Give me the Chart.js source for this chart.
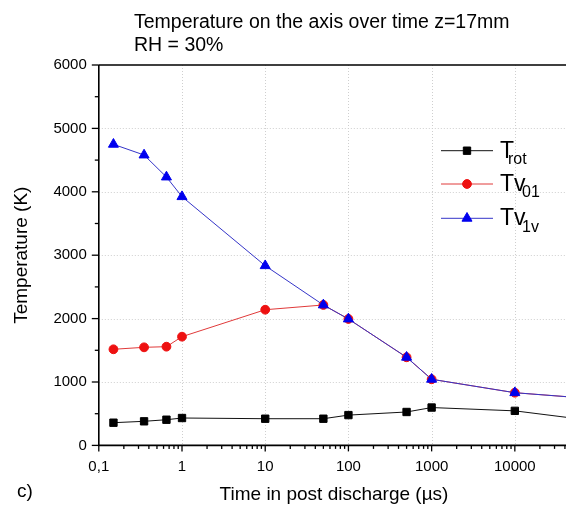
<!DOCTYPE html>
<html><head><meta charset="utf-8">
<script src="https://cdn.jsdelivr.net/npm/chart.js@4.4.1/dist/chart.umd.min.js"></script>
<style>html,body{margin:0;padding:0;background:#fff;}#wrap{width:566px;height:506px;position:relative;}</style>
</head><body><div id="wrap"><canvas id="c" width="566" height="506"></canvas></div>
<script>
// ---- data ----
const timesUs = [0.15, 0.35, 0.65, 1, 10, 50, 100, 500, 1000, 10000, 100000];
const tRot = [358, 380, 405, 432, 421, 421, 478, 527, 597, 545, 380];
const tv01 = [1516, 1547, 1557, 1715, 2140, 2215, 1994, 1390, 1043, 831, 730];
const tv1v = [4749, 4580, 4233, 3923, 2834, 2215, 1994, 1390, 1043, 831, 730];
const seriesMain = ['T', 'Tv', 'Tv'];
const seriesSub = ['rot', '01', '1v'];
const xMajorTicks = [0.1, 1, 10, 100, 1000, 10000];
const xTickLabels = ['0,1', '1', '10', '100', '1000', '10000'];
const yTicks = [0, 1000, 2000, 3000, 4000, 5000, 6000];
const yTickLabels = ['0', '1000', '2000', '3000', '4000', '5000', '6000'];
const titleLines = ['Temperature on the axis over time z=17mm', 'RH = 30%'];
const xTitle = 'Time in post discharge (µs)';
const yTitle = 'Temperature (K)';
const panelLabel = 'c)';

const FONT = "'Liberation Sans', Arial, sans-serif";
const colors = ['#000000', '#ee1111', '#0000ee'];
const lineColors = ['#111111', '#e03a3a', '#3535c8'];
const styles = ['rect', 'circle', 'triangle'];
const radii = [5.2, 4.4, 5.8];

function pts(v){ return timesUs.map((t,i)=>({x:t, y:v[i]})); }

// minor ticks for log axis
const xAllTicks = [];
for (let e = -1; e <= 4; e++) for (let k = 1; k <= 9; k++) xAllTicks.push(+(k*Math.pow(10,e)).toPrecision(3));

function drawMarker(ctx, style, x, y, r, color){
  ctx.fillStyle = color; ctx.strokeStyle = color; ctx.lineWidth = 1;
  ctx.beginPath();
  if (style === 'rect'){ const s = r*Math.SQRT1_2; ctx.rect(x-s, y-s, 2*s, 2*s); }
  else if (style === 'circle'){ ctx.arc(x, y, r, 0, Math.PI*2); }
  else { ctx.moveTo(x, y-r); ctx.lineTo(x+r*0.866, y+r*0.5); ctx.lineTo(x-r*0.866, y+r*0.5); ctx.closePath(); }
  ctx.fill(); ctx.stroke();
}

const decor = {
  id: 'decor',
  beforeDatasetsDraw(chart){
    const {ctx, chartArea:a, scales:{x, y}} = chart;
    ctx.save();
    // dotted grid
    ctx.strokeStyle = '#cfcfcf'; ctx.lineWidth = 1; ctx.setLineDash([1,2]);
    xMajorTicks.slice(1).forEach(v=>{
      const px = Math.round(x.getPixelForValue(v)) + 0.5;
      ctx.beginPath(); ctx.moveTo(px, a.top); ctx.lineTo(px, a.bottom); ctx.stroke();
    });
    yTicks.slice(1, -1).forEach(v=>{
      const py = Math.round(y.getPixelForValue(v)) + 0.5;
      ctx.beginPath(); ctx.moveTo(a.left, py); ctx.lineTo(a.right, py); ctx.stroke();
    });
    ctx.setLineDash([]);
    // ticks
    ctx.strokeStyle = '#000'; ctx.lineWidth = 1.3;
    xAllTicks.forEach(v=>{
      if (v < 0.1 || v > x.max) return;
      const px = x.getPixelForValue(v);
      const major = xMajorTicks.includes(v);
      ctx.beginPath(); ctx.moveTo(px, a.bottom); ctx.lineTo(px, a.bottom + (major ? 6 : 3.5)); ctx.stroke();
    });
    for (let v = 0; v <= 6000; v += 500){
      const py = y.getPixelForValue(v);
      const major = v % 1000 === 0;
      ctx.beginPath(); ctx.moveTo(a.left, py); ctx.lineTo(a.left - (major ? 7 : 4), py); ctx.stroke();
    }
    // axis lines + top frame
    ctx.lineWidth = 1.6;
    ctx.beginPath();
    ctx.moveTo(a.left, a.top); ctx.lineTo(a.left, a.bottom); ctx.lineTo(a.right, a.bottom);
    ctx.moveTo(a.left, a.top); ctx.lineTo(a.right, a.top);
    ctx.stroke();
    ctx.restore();
  },
  afterDraw(chart){
    const {ctx, chartArea:a} = chart;
    ctx.save();
    ctx.fillStyle = '#000';
    // title
    ctx.font = '19.5px ' + FONT; ctx.textAlign = 'left'; ctx.textBaseline = 'alphabetic';
    ctx.fillText(titleLines[0], 134, 28);
    ctx.fillText(titleLines[1], 134, 51);
    // axis titles
    ctx.font = '19px ' + FONT; ctx.textAlign = 'center';
    ctx.fillText(xTitle, 334, 500);
    ctx.textAlign = 'left';
    ctx.fillText(panelLabel, 17, 497);
    ctx.save();
    ctx.translate(27, (a.top + a.bottom)/2); ctx.rotate(-Math.PI/2);
    ctx.textAlign = 'center'; ctx.fillText(yTitle, 0, 0);
    ctx.restore();
    // legend
    const rows = [150.7, 184, 218.3];
    const subX = [508, 522, 522];
    rows.forEach((ry, i)=>{
      ctx.strokeStyle = lineColors[i]; ctx.lineWidth = 1;
      ctx.beginPath(); ctx.moveTo(441, ry); ctx.lineTo(493, ry); ctx.stroke();
      drawMarker(ctx, styles[i], 467, ry, radii[i], colors[i]);
      ctx.fillStyle = '#000'; ctx.textAlign = 'left';
      ctx.font = '23px ' + FONT; ctx.fillText(seriesMain[i], 500, ry + 6.8);
      ctx.font = '16px ' + FONT; ctx.fillText(seriesSub[i], subX[i], ry + 13.2);
    });
    ctx.restore();
  }
};

const ds = [tRot, tv01, tv1v].map((v, i)=>({
  label: seriesMain[i] + '_' + seriesSub[i],
  data: pts(v),
  borderColor: lineColors[i],
  backgroundColor: colors[i],
  pointBackgroundColor: colors[i],
  pointBorderColor: colors[i],
  pointStyle: styles[i],
  pointRadius: radii[i],
  pointBorderWidth: 1,
  borderWidth: 1,
  tension: 0,
  order: [0, 2, 1][i]
}));

new Chart(document.getElementById('c'), {
  type: 'line',
  data: { datasets: ds },
  options: {
    responsive: false, animation: false, devicePixelRatio: 1,
    layout: { autoPadding: false, padding: { left: 0, right: 0, top: 65, bottom: 0 } },
    plugins: { legend: { display: false }, title: { display: false }, tooltip: { enabled: false } },
    scales: {
      x: {
        type: 'logarithmic', min: 0.1, max: 41200, bounds: 'data',
        afterBuildTicks: s => { s.ticks = xAllTicks.filter(v => v >= 0.1 && v <= 41200).map(v => ({ value: v })); },
        afterFit: s => { s.height = 60.6; s.paddingLeft = 0; s.paddingRight = 0; },
        grid: { display: false, drawTicks: false },
        border: { display: false },
        ticks: {
          autoSkip: false, maxRotation: 0, padding: 12, color: '#000',
          font: { family: FONT, size: 15 },
          callback: v => { const i = xMajorTicks.indexOf(v); return i >= 0 ? xTickLabels[i] : ''; }
        }
      },
      y: {
        min: 0, max: 6000,
        afterBuildTicks: s => { s.ticks = yTicks.map(v => ({ value: v })); },
        afterFit: s => { s.width = 98.8; s.paddingTop = 0; s.paddingBottom = 0; },
        grid: { display: false, drawTicks: false },
        border: { display: false },
        ticks: {
          padding: 12, color: '#000', font: { family: FONT, size: 15 },
          callback: v => { const i = yTicks.indexOf(v); return i >= 0 ? yTickLabels[i] : ''; }
        }
      }
    }
  },
  plugins: [decor]
});
</script></body></html>
